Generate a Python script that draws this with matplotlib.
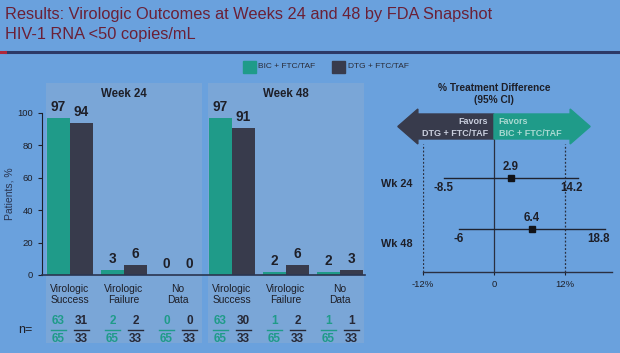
import matplotlib
matplotlib.use("Agg")
import matplotlib.pyplot as plt
from matplotlib.patches import Rectangle, Polygon
from matplotlib.lines import Line2D
import matplotlib.transforms as mtrans

plt.rcParams['font.family'] = ['Liberation Sans', 'DejaVu Sans']

# ---------------- data ----------------
categories = ["Virologic\nSuccess", "Virologic\nFailure", "No\nData"]
weeks = ["Week 24", "Week 48"]
bic_pct = [97, 3, 0, 97, 2, 2]
dtg_pct = [94, 6, 0, 91, 6, 3]
bic_num = [63, 2, 0, 63, 1, 1]
bic_den = 65
dtg_num = [31, 2, 0, 30, 2, 1]
dtg_den = 33
yticks = [0, 20, 40, 60, 80, 100]

forest_rows = ["Wk 24", "Wk 48"]
diff_est = [2.9, 6.4]
diff_lo = [-8.5, -6]
diff_hi = [14.2, 18.8]
forest_ticks = [-12, 0, 12]
forest_ticklabels = ["-12%", "0", "12%"]
margin = 12

# ---------------- style ----------------
BG = "#6AA1DD"
PANEL = "#7AA6D7"
TEAL = "#1F9B89"
DARK = "#383B4C"
TXT = "#1E1F28"
TITLE = "#6A2036"

W, H = 620, 353
fig = plt.figure(figsize=(6.2, 3.53), dpi=100, facecolor=BG)

def fx(px):
    return px / W

def fy(py):
    return 1 - py / H

# title
fig.text(fx(5), fy(14), "Results: Virologic Outcomes at Weeks 24 and 48 by FDA Snapshot",
         color=TITLE, fontsize=11.8, va="center", ha="left")
fig.text(fx(5), fy(34), "HIV-1 RNA <50 copies/mL", color=TITLE, fontsize=11.8,
         va="center", ha="left")
fig.add_artist(Line2D([fx(6), fx(620)], [fy(52), fy(52)], color="#2C3966", lw=2.2))
fig.add_artist(Line2D([fx(0), fx(5)], [fy(52), fy(52)], color="#B0283A", lw=2.2))

# legend
fig.add_artist(Rectangle((fx(243), fy(73)), fx(13), 12 / H, color=TEAL))
fig.text(fx(258), fy(67), "BIC + FTC/TAF", fontsize=6, color="#2A2C38", va="center")
fig.add_artist(Rectangle((fx(332), fy(73)), fx(13), 12 / H, color=DARK))
fig.text(fx(348), fy(67), "DTG + FTC/TAF", fontsize=6, color="#2A2C38", va="center")

# ---------------- bar axes ----------------
ax = fig.add_axes([fx(42), fy(275), fx(365 - 42), (275 - 113) / H])
ax.patch.set_visible(False)
ax.set_xlim(-0.519, 5.463)
ax.set_ylim(0, 100)
n = len(bic_pct)
xs = list(range(n))
bw = 0.43
off = 0.213

trans = mtrans.blended_transform_factory(ax.transData, ax.transAxes)
for wi, wk in enumerate(weeks):
    first = wi * 3
    last = first + 2
    ax.add_patch(Rectangle((first - 0.445, -0.42), (last - first) + 0.89, 1.605,
                           transform=trans, facecolor=PANEL, edgecolor="none",
                           zorder=0, clip_on=False))
    ax.text(first + 1, 1.117, wk, transform=trans, ha="center", va="center",
            fontsize=8.3, fontweight="bold", color=TXT)

ax.bar([x - off for x in xs], bic_pct, width=bw, color=TEAL, zorder=2)
ax.bar([x + off for x in xs], dtg_pct, width=bw, color=DARK, zorder=2)
for x, b, d in zip(xs, bic_pct, dtg_pct):
    ax.text(x - off, b + 2.5, str(b), ha="center", va="bottom", fontsize=9.8,
            fontweight="bold", color=TXT, clip_on=False)
    ax.text(x + off, d + 2.5, str(d), ha="center", va="bottom", fontsize=9.8,
            fontweight="bold", color=TXT, clip_on=False)

for x in xs:
    ax.text(x, -0.12, categories[x % 3], transform=trans, ha="center", va="center",
            fontsize=7.4, color=TXT, linespacing=1.15)

# n= fractions
ax.text(-0.82, -0.34, "n=", transform=trans, ha="center", va="center",
        fontsize=9, color=TXT)
for x in xs:
    for dx, num, den, col in ((-off, bic_num[x], bic_den, TEAL),
                              (off, dtg_num[x], dtg_den, "#262836")):
        ax.text(x + dx, -0.286, str(num), transform=trans, ha="center", va="center",
                fontsize=8.5, fontweight="bold", color=col)
        ax.text(x + dx, -0.396, str(den), transform=trans, ha="center", va="center",
                fontsize=8.5, fontweight="bold", color=col)
        ax.add_line(Line2D([x + dx - 0.14, x + dx + 0.14], [-0.339, -0.339],
                           transform=trans, color=col, lw=1.0, clip_on=False))

ax.set_yticks(yticks)
ax.set_xticks([])
ax.tick_params(axis="y", labelsize=6.8, colors=TXT, length=3, width=0.8)
for s in ("top", "right"):
    ax.spines[s].set_visible(False)
ax.spines["left"].set_color(TXT)
ax.spines["bottom"].set_color("#2A3550")
ax.spines["bottom"].set_linewidth(1.2)
ax.set_ylabel("Patients, %", fontsize=7.5, color="#2A3550", labelpad=2)

# ---------------- forest axes ----------------
fa = fig.add_axes([fx(423), fy(272), fx(612 - 423), 167 / H])
fa.patch.set_visible(False)
fa.set_xlim(-12.03, 20.0)
fa.set_ylim(0, 167)
for s in ("top", "right", "left"):
    fa.spines[s].set_visible(False)
fa.spines["bottom"].set_color("#2A2F40")
fa.spines["bottom"].set_linewidth(1.0)
fa.set_yticks([])
fa.set_xticks(forest_ticks)
fa.set_xticklabels(forest_ticklabels)
fa.tick_params(axis="x", labelsize=6.8, colors=TXT, length=2.5, pad=3)

# arrow
half = 16.3
head = 3.4
body_lo, body_hi = 133, 158
head_lo, head_hi = 128, 163
mid = (body_lo + body_hi) / 2
left_poly = [(0, body_lo), (-half + head, body_lo), (-half + head, head_lo),
             (-half, mid), (-half + head, head_hi), (-half + head, body_hi), (0, body_hi)]
right_poly = [(0, body_lo), (half - head, body_lo), (half - head, head_lo),
              (half, mid), (half - head, head_hi), (half - head, body_hi), (0, body_hi)]
fa.add_patch(Polygon(left_poly, closed=True, color=DARK, clip_on=False, zorder=3))
fa.add_patch(Polygon(right_poly, closed=True, color=TEAL, clip_on=False, zorder=3))
fa.text(-1.0, 151, "Favors", ha="right", va="center", fontsize=6.5,
        fontweight="bold", color="#C9CEDD", zorder=4)
fa.text(-1.0, 139, "DTG + FTC/TAF", ha="right", va="center", fontsize=6.5,
        fontweight="bold", color="#C9CEDD", zorder=4)
fa.text(0.8, 151, "Favors", ha="left", va="center", fontsize=6.5,
        fontweight="bold", color="#A9D9D2", zorder=4)
fa.text(0.8, 139, "BIC + FTC/TAF", ha="left", va="center", fontsize=6.5,
        fontweight="bold", color="#A9D9D2", zorder=4)

fa.text(0, 184, "% Treatment Difference", ha="center", va="center", fontsize=7.3,
        fontweight="bold", color=TXT, clip_on=False)
fa.text(0, 172, "(95% CI)", ha="center", va="center", fontsize=7.3,
        fontweight="bold", color=TXT, clip_on=False)

fa.plot([0, 0], [0, body_lo], color="#2A2F40", lw=0.9, zorder=1)
for m in (-margin, margin):
    fa.plot([m, m], [0, head_lo], color="#2A2F40", lw=0.9, ls=(0, (1.5, 1.5)), zorder=1)

row_y = [94, 43]
for name, yy, est, lo, hi in zip(forest_rows, row_y, diff_est, diff_lo, diff_hi):
    fa.plot([lo, hi], [yy, yy], color="#1F2330", lw=1.0, zorder=2)
    fa.plot([est], [yy], marker="s", ms=5, color="#111318", zorder=3, ls="none")
    fa.text(est, yy + 11, f"{est:g}", ha="center", va="center", fontsize=8.3,
            fontweight="bold", color=TXT)
    fa.text(lo, yy - 10, f"{lo:g}", ha="center", va="center", fontsize=8.3,
            fontweight="bold", color=TXT)
    fa.text(hi + 0.8, yy - 10, f"{hi:g}", ha="right", va="center", fontsize=8.3,
            fontweight="bold", color=TXT)
    fa.text(-19.1, yy - 6 if yy > 60 else yy - 15, name, ha="left", va="center",
            fontsize=7.8, fontweight="bold", color=TXT, clip_on=False)

fig.savefig("out.png", dpi=100, facecolor=BG)
